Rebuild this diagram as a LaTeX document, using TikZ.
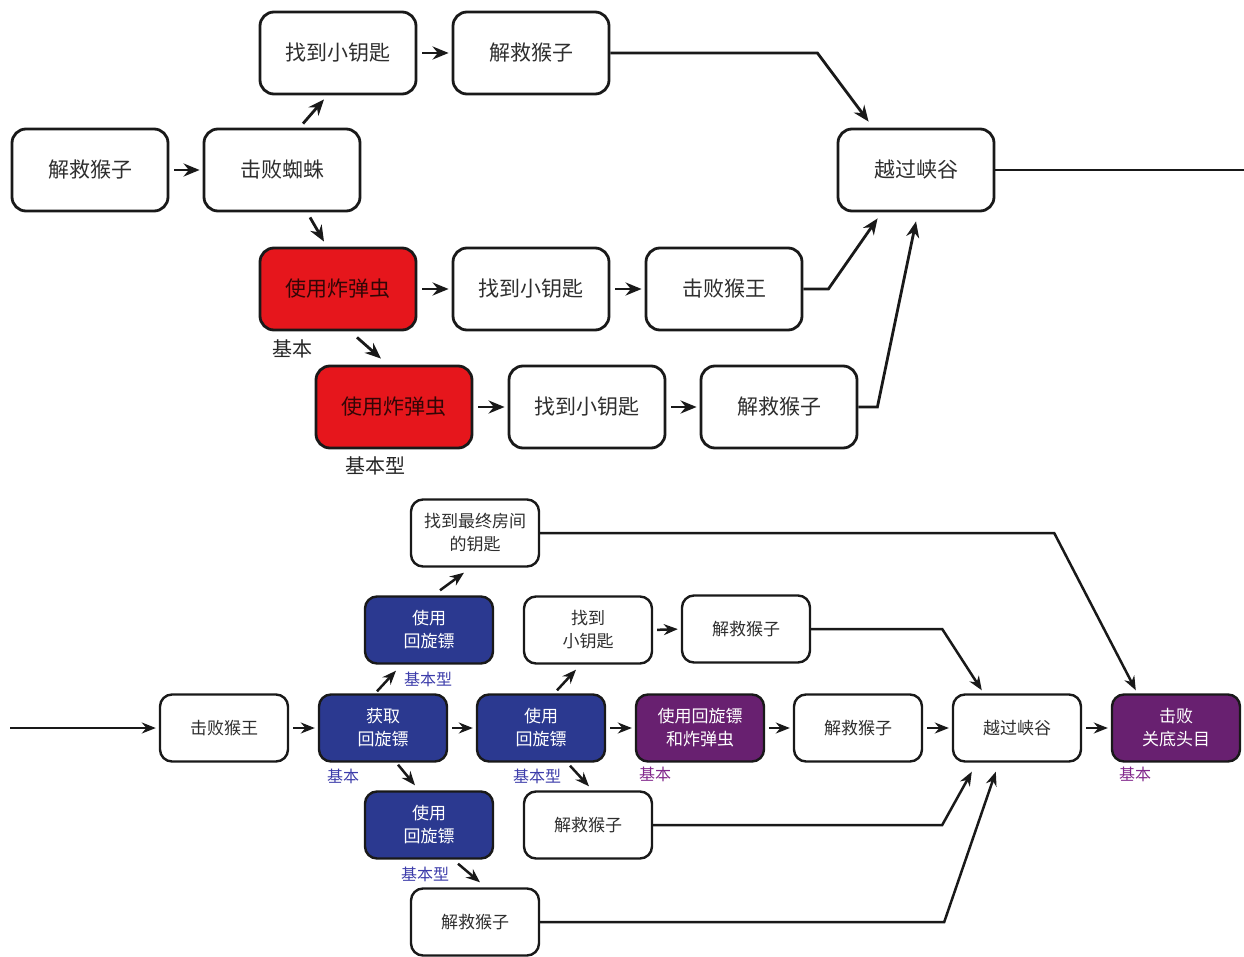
\documentclass[tikz,border=0pt]{standalone}
\usepackage{fontspec}
\setmainfont{Noto Sans CJK SC}
\usetikzlibrary{arrows.meta,calc}
\definecolor{bred}{RGB}{230,22,28}
\definecolor{bredtxt}{RGB}{50,6,6}
\definecolor{bblue}{RGB}{43,57,144}
\definecolor{bpurple}{RGB}{104,32,112}
\definecolor{lblue}{RGB}{60,60,170}
\definecolor{lpurple}{RGB}{130,40,140}
\tikzset{
  bigbox/.style={draw=black!90, rounded corners=14pt, line width=2.8pt,
    minimum width=156pt, minimum height=82pt, align=center, inner sep=0pt,
    text=black!82, font=\fontsize{21}{25}\selectfont},
  smallbox/.style={draw=black!90, rounded corners=12pt, line width=2.4pt,
    minimum width=128pt, minimum height=67pt, align=center, inner sep=0pt,
    text=black!82, font=\fontsize{17}{23}\selectfont},
  redbox/.style={bigbox, fill=bred, text=bredtxt},
  bluebox/.style={smallbox, fill=bblue, text=white},
  purplebox/.style={smallbox, fill=bpurple, text=white},
  biglabel/.style={font=\fontsize{20}{22}\selectfont, inner sep=0pt, text=black!85},
  smalllabel/.style={font=\fontsize{16}{18}\selectfont, inner sep=0pt},
  arr/.style={-{Stealth[length=16pt,width=13pt]}, line width=2.8pt, black!90},
  sarr/.style={-{Stealth[length=14pt,width=11pt]}, line width=2.5pt, black!90},
  ln/.style={line width=2.8pt, black!90},
}
\begin{document}
\begin{tikzpicture}[x=1pt,y=-1pt]
\useasboundingbox (0,0) rectangle (1244,957);
% ---------- top ----------
\node[bigbox] (A1) at (90,170) {解救猴子};
\node[bigbox] (A2) at (282,170) {击败蜘蛛};
\node[bigbox] (A3) at (338,53) {找到小钥匙};
\node[bigbox] (A4) at (531,53) {解救猴子};
\node[bigbox] (A5) at (916,170) {越过峡谷};
\node[redbox] (R1) at (338,289) {使用炸弹虫};
\node[bigbox] (A6) at (531,289) {找到小钥匙};
\node[bigbox] (A7) at (724,289) {击败猴王};
\node[redbox] (R2) at (394,407) {使用炸弹虫};
\node[bigbox] (A8) at (587,407) {找到小钥匙};
\node[bigbox] (A9) at (779,407) {解救猴子};
\node[biglabel] (L1) at (292,349) {基本};
\node[biglabel] (L2) at (375,466) {基本型};
\coordinate (Rend) at (1244,170);

\draw[arr, shorten <=5pt, shorten >=3pt] (A1.east) -- (A2.west);
\draw[arr] ($(A2.north)+(21,-4)$) -- ($(A3.south)+(-14,4)$);
\draw[arr] ($(A2.south)+(28,5)$) -- ($(R1.north)+(-14,-5)$);
\draw[arr, shorten <=5pt, shorten >=3pt] (A3.east) -- (A4.west);
\draw[arr] (A4.east) -- ++(207,0) -- ($(A5.north west)+(32,-6)$);
\draw[ln] (A5.east) -- (Rend);
\draw[arr, shorten <=5pt, shorten >=3pt] (R1.east) -- (A6.west);
\draw[arr, shorten <=5pt, shorten >=3pt] (A6.east) -- (A7.west);
\draw[arr] (A7.east) -- ++(25,0) -- ($(A5.south west)+(41,6)$);
\draw[arr] ($(R1.south)+(19,6)$) -- ($(R2.north)+(-13,-6)$);
\draw[arr, shorten <=5pt, shorten >=3pt] (R2.east) -- (A8.west);
\draw[arr, shorten <=5pt, shorten >=3pt] (A8.east) -- (A9.west);
\draw[arr] (A9.east) -- ++(19,0) -- ($(A5.south)+(0,9)$);

% ---------- bottom ----------
\node[smallbox] (B1) at (224,728) {击败猴王};
\node[bluebox] (B2) at (383,728) {获取\\回旋镖};
\node[bluebox] (B3) at (429,630) {使用\\回旋镖};
\node[smallbox] (B4) at (475,533) {找到最终房间\\的钥匙};
\node[bluebox] (B5) at (429,825) {使用\\回旋镖};
\node[smallbox] (B6) at (475,922) {解救猴子};
\node[bluebox] (B7) at (541,728) {使用\\回旋镖};
\node[smallbox] (B8) at (588,630) {找到\\小钥匙};
\node[smallbox] (B9) at (746,629) {解救猴子};
\node[purplebox] (B10) at (700,728) {使用回旋镖\\和炸弹虫};
\node[smallbox] (B11) at (858,728) {解救猴子};
\node[smallbox] (B12) at (1017,728) {越过峡谷};
\node[purplebox] (B13) at (1176,728) {击败\\关底头目};
\node[smallbox] (B14) at (588,825) {解救猴子};
\node[smalllabel, text=lblue] (LB2) at (343,776) {基本};
\node[smalllabel, text=lblue] (LB3) at (428,679) {基本型};
\node[smalllabel, text=lblue] (LB5) at (425,874) {基本型};
\node[smalllabel, text=lblue] (LB7) at (537,776) {基本型};
\node[smalllabel, text=lpurple] (LB10) at (655,774) {基本};
\node[smalllabel, text=lpurple] (LB13) at (1135,774) {基本};
\coordinate (Lstart) at (10,728);

\draw[sarr, shorten >=3pt] (Lstart) -- (B1.west);
\draw[sarr, shorten <=4pt, shorten >=3pt] (B1.east) -- (B2.west);
\draw[sarr, shorten <=4pt, shorten >=3pt] (B2.east) -- (B7.west);
\draw[sarr, shorten <=4pt, shorten >=3pt] (B7.east) -- (B10.west);
\draw[sarr, shorten <=4pt, shorten >=3pt] (B10.east) -- (B11.west);
\draw[sarr, shorten <=4pt, shorten >=3pt] (B11.east) -- (B12.west);
\draw[sarr, shorten <=4pt, shorten >=3pt] (B12.east) -- (B13.west);
\draw[sarr, shorten <=4pt, shorten >=3pt] (B8.east) -- (B9.west);
\draw[sarr] ($(B2.north)+(-6,-2)$) -- ($(B3.south)+(-33,6)$);
\draw[sarr] ($(B3.north)+(11,-5)$) -- ($(B4.south)+(-11,5)$);
\draw[sarr] ($(B2.south)+(15,2)$) -- ($(B5.north)+(-14,-5)$);
\draw[sarr] ($(B5.south)+(29,4)$) -- ($(B6.north)+(5,-5)$);
\draw[sarr] ($(B7.north)+(16,-3)$) -- ($(B8.south)+(-12,5)$);
\draw[sarr] ($(B7.south)+(29,3)$) -- ($(B14.north)+(1,-4)$);
\draw[sarr] (B4.east) -- ++(514,0) -- ($(B13.north west)+(25,-3)$);
\draw[sarr] (B9.east) -- ++(131,0) -- ($(B12.north west)+(30,-3)$);
\draw[sarr] (B14.east) -- ++(289,0) -- ($(B12.south west)+(20,9)$);
\draw[sarr] (B6.east) -- ++(404,0) -- ($(B12.south west)+(44,9)$);
\end{tikzpicture}
\end{document}
